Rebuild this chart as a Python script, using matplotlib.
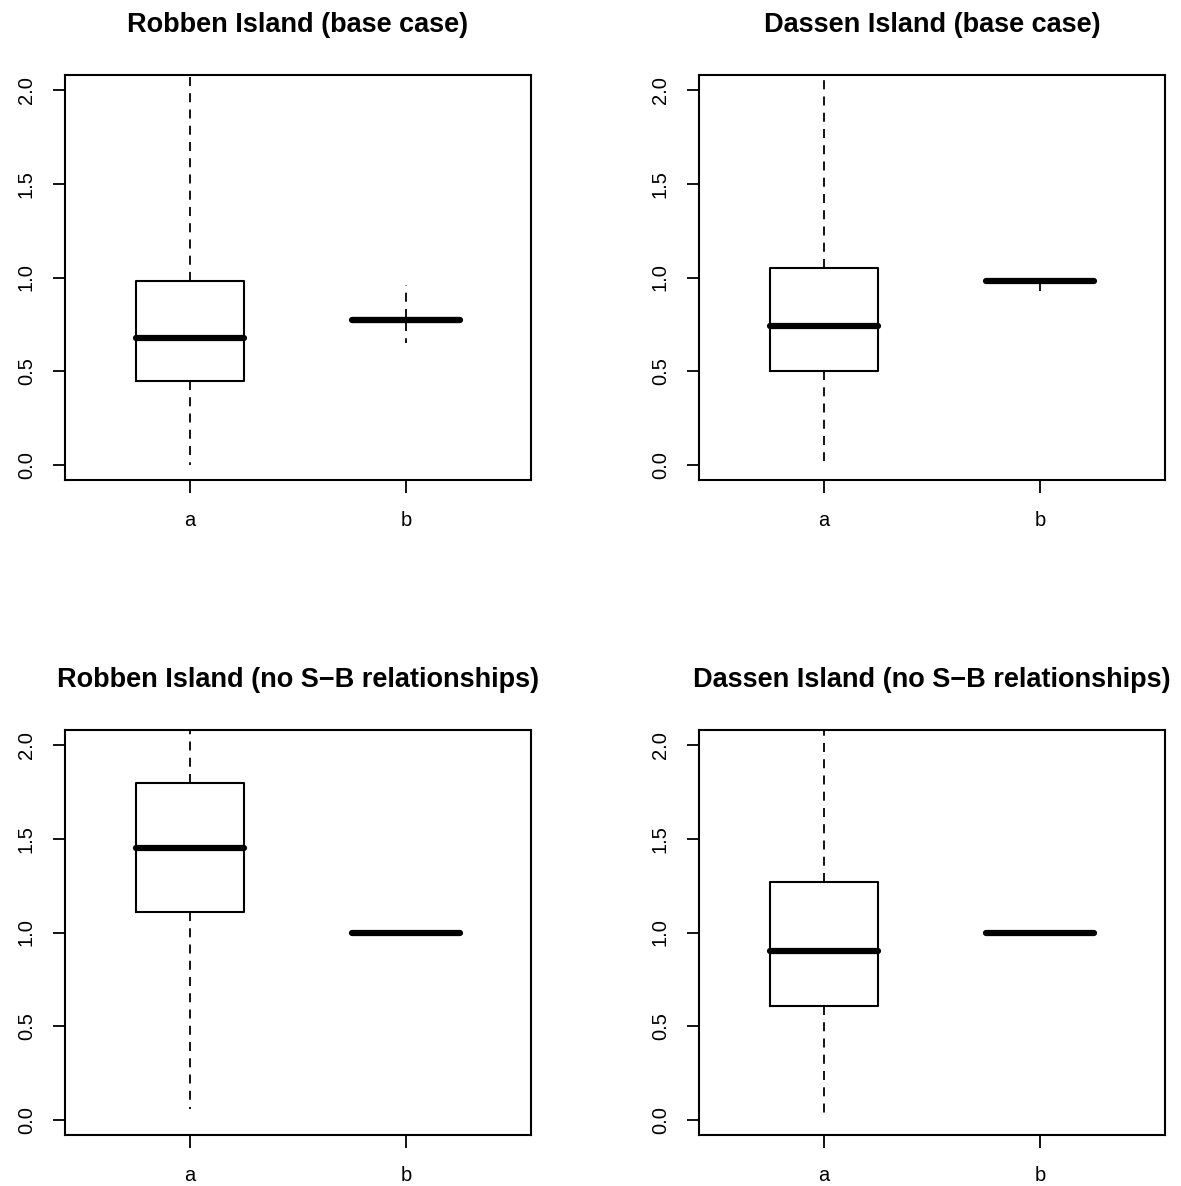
import matplotlib
matplotlib.use('Agg')
import matplotlib.pyplot as plt

plt.rcParams['font.family'] = ['Liberation Sans', 'DejaVu Sans']

# 各面板标题
titles = ['Robben Island (base case)', 'Dassen Island (base case)',
          'Robben Island (no S\u2212B relationships)', 'Dassen Island (no S\u2212B relationships)']
groups = ['a', 'b']

# 箱线图统计量，上须超出坐标范围时为估计值
q1 = [[0.45, 0.765], [0.50, 0.978], [1.11, 1.0], [0.61, 1.0]]
med = [[0.68, 0.774], [0.74, 0.98], [1.45, 1.0], [0.90, 1.0]]
q3 = [[0.98, 0.782], [1.05, 0.982], [1.80, 1.0], [1.27, 1.0]]
whis_lo = [[0.0, 0.65], [0.02, 0.93], [0.06, 1.0], [0.04, 1.0]]
whis_hi = [[2.4, 0.96], [2.4, 1.0], [2.4, 1.0], [2.4, 1.0]]

yticks = [0.0, 0.5, 1.0, 1.5, 2.0]

W, H = 1181, 1186
fig = plt.figure(figsize=(W / 100, H / 100), dpi=100)

# 坐标轴位置（像素）
lefts = [65, 699, 65, 699]
tops = [75, 75, 730, 730]
aw, ah = 466, 405

for k in range(4):
    ax = fig.add_axes([lefts[k] / W, 1 - (tops[k] + ah) / H, aw / W, ah / H])
    stats = []
    for j in range(2):
        stats.append(dict(med=med[k][j], q1=q1[k][j], q3=q3[k][j],
                          whislo=whis_lo[k][j], whishi=whis_hi[k][j], fliers=[]))
    ax.bxp(stats, positions=[1, 2], widths=0.5, showcaps=False, showfliers=False,
           boxprops=dict(color='black', linewidth=1.5),
           whiskerprops=dict(color='black', linewidth=1.3, linestyle=(0, (5, 4))),
           medianprops=dict(color='black', linewidth=4.5, solid_capstyle='round'))
    ax.set_xlim(0.42, 2.58)
    ax.set_ylim(-0.08, 2.08)
    ax.set_yticks(yticks)
    ax.set_yticklabels([f'{v:.1f}' for v in yticks], rotation=90, va='center', fontsize=14.5)
    ax.set_xticks([1, 2])
    ax.set_xticklabels(groups, fontsize=14.5)
    ax.tick_params(axis='both', length=9, width=1.3, pad=12)
    ax.tick_params(axis='x', pad=13)
    for s in ax.spines.values():
        s.set_linewidth(1.5)
    ax.set_title(titles[k], fontsize=19.5, fontweight='bold', pad=31)

plt.savefig('out.png', dpi=100, facecolor='white')
